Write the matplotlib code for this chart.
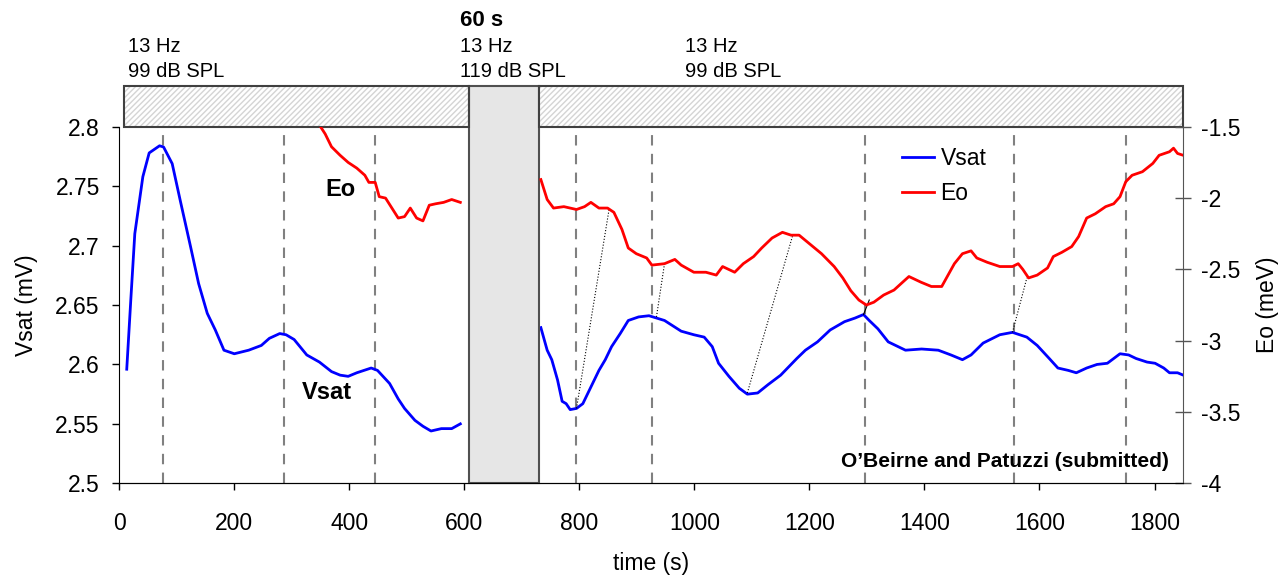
import matplotlib
matplotlib.use("Agg")
import matplotlib.pyplot as plt
from matplotlib.patches import Rectangle
from matplotlib.lines import Line2D

plt.rcParams['font.family'] = ['Liberation Sans', 'DejaVu Sans']

# Vsat (mV), before and after the 60 s loud tone
vsat1_t = [13, 20, 27, 41, 52, 70, 77, 92, 106, 124, 138, 153, 167, 182, 200, 225, 247, 261, 279,
           290, 304, 326, 348, 369, 384, 398, 413, 438, 449, 470, 485, 496, 514, 528, 542, 560, 578, 593]
vsat1_v = [2.596, 2.654, 2.71, 2.758, 2.778, 2.784, 2.783, 2.769, 2.738, 2.699, 2.668, 2.643, 2.629,
           2.612, 2.609, 2.612, 2.616, 2.622, 2.626, 2.625, 2.621, 2.608, 2.602, 2.594, 2.591, 2.590,
           2.593, 2.597, 2.595, 2.584, 2.571, 2.563, 2.553, 2.548, 2.544, 2.546, 2.546, 2.550]
vsat2_t = [733, 744, 752, 762, 770, 777, 784, 795, 806, 820, 834, 845, 856, 871, 885, 903, 921, 948,
           977, 999, 1017, 1031, 1042, 1060, 1078, 1092, 1110, 1128, 1150, 1164, 1178, 1193, 1214,
           1236, 1261, 1279, 1294, 1304, 1319, 1337, 1367, 1395, 1424, 1446, 1466, 1481, 1502, 1531,
           1553, 1578, 1596, 1617, 1632, 1650, 1664, 1682, 1700, 1718, 1729, 1740, 1755, 1768, 1787,
           1801, 1816, 1826, 1840, 1850]
vsat2_v = [2.631, 2.612, 2.604, 2.587, 2.569, 2.567, 2.562, 2.563, 2.567, 2.581, 2.595, 2.604, 2.615,
           2.626, 2.637, 2.640, 2.641, 2.637, 2.628, 2.625, 2.623, 2.615, 2.601, 2.590, 2.580, 2.575,
           2.576, 2.583, 2.591, 2.598, 2.605, 2.612, 2.619, 2.629, 2.636, 2.639, 2.642, 2.637, 2.630,
           2.619, 2.612, 2.613, 2.612, 2.608, 2.604, 2.608, 2.618, 2.625, 2.627, 2.623, 2.616, 2.605,
           2.597, 2.595, 2.593, 2.597, 2.600, 2.601, 2.605, 2.609, 2.608, 2.605, 2.602, 2.601, 2.597,
           2.593, 2.593, 2.591]

# Eo (meV)
eo1_t = [350, 358, 369, 384, 398, 413, 427, 434, 445, 452, 463, 474, 485, 496, 506, 517, 528, 539,
         550, 564, 578, 593]
eo1_v = [-1.50, -1.55, -1.64, -1.70, -1.75, -1.79, -1.84, -1.89, -1.89, -1.99, -2.00, -2.07, -2.14,
         -2.13, -2.07, -2.14, -2.16, -2.05, -2.04, -2.03, -2.01, -2.03]
eo2_t = [733, 744, 755, 773, 795, 809, 820, 834, 849, 860, 874, 885, 899, 917, 926, 948, 966, 977,
         999, 1020, 1038, 1049, 1070, 1085, 1103, 1117, 1135, 1153, 1168, 1182, 1200, 1221, 1243,
         1258, 1272, 1286, 1299, 1312, 1329, 1347, 1362, 1373, 1394, 1412, 1430, 1441, 1452, 1466,
         1481, 1491, 1509, 1531, 1553, 1563, 1571, 1581, 1596, 1614, 1624, 1639, 1656, 1668, 1682,
         1697, 1715, 1729, 1740, 1750, 1761, 1779, 1797, 1808, 1826, 1833, 1840, 1850]
eo2_v = [-1.87, -2.01, -2.07, -2.06, -2.08, -2.06, -2.03, -2.07, -2.07, -2.10, -2.22, -2.35, -2.39,
         -2.42, -2.47, -2.46, -2.43, -2.47, -2.52, -2.52, -2.54, -2.48, -2.52, -2.46, -2.41, -2.35,
         -2.28, -2.24, -2.26, -2.26, -2.32, -2.39, -2.48, -2.56, -2.65, -2.715, -2.75, -2.73, -2.68,
         -2.645, -2.59, -2.55, -2.59, -2.62, -2.62, -2.54, -2.46, -2.39, -2.37, -2.42, -2.45, -2.48,
         -2.48, -2.46, -2.50, -2.56, -2.54, -2.49, -2.41, -2.38, -2.34, -2.27, -2.14, -2.11, -2.06,
         -2.04, -1.99, -1.885, -1.84, -1.815, -1.757, -1.70, -1.675, -1.65, -1.687, -1.70]

# vertical dashed markers (s)
markers = [76, 287, 445, 794, 926, 1297, 1556, 1751]

# connector lines: (t, Vsat) -> (t, Eo)
conn_vt = [795, 934, 1092, 1294, 1553]
conn_vv = [2.563, 2.640, 2.576, 2.642, 2.627]
conn_et = [852, 948, 1171, 1304, 1578]
conn_ev = [-2.07, -2.46, -2.26, -2.715, -2.56]
conn_style = [':', ':', ':', '-', ':']

# stimulus periods
stim_start = [9, 608, 729]
stim_end = [608, 729, 1850]
stim_lab1 = ['13 Hz', '13 Hz', '13 Hz']
stim_lab2 = ['99 dB SPL', '119 dB SPL', '99 dB SPL']
stim_lab_x = [16, 593, 983]

VMIN, VMAX = 2.5, 2.8
EMIN, EMAX = -4, -1.5


def eo_to_v(e):
    return VMIN + (e - EMIN) / (EMAX - EMIN) * (VMAX - VMIN)


fig = plt.figure(figsize=(12.88, 5.75), dpi=100)
ax = fig.add_axes([0.0926, 0.1595, 0.8261, 0.620])
ax2 = ax.twinx()

ax.plot(vsat1_t, vsat1_v, color='#0000ff', lw=2)
ax.plot(vsat2_t, vsat2_v, color='#0000ff', lw=2)
ax2.plot(eo1_t, eo1_v, color='#ff0000', lw=2)
ax2.plot(eo2_t, eo2_v, color='#ff0000', lw=2)

for m in markers:
    ax.axvline(m, color='#808080', ls=(0, (5, 4)), lw=1.5, zorder=0)

for i in range(len(conn_vt)):
    ax.plot([conn_vt[i], conn_et[i]], [conn_vv[i], eo_to_v(conn_ev[i])],
            color='black', ls=conn_style[i], lw=0.8)

ax.set_xlim(0, 1850)
ax.set_ylim(VMIN, VMAX)
ax2.set_ylim(EMIN, EMAX)
ax.set_xticks(range(0, 1801, 200))
ax.set_yticks([2.5, 2.55, 2.6, 2.65, 2.7, 2.75, 2.8])
ax.set_yticklabels(['2.5', '2.55', '2.6', '2.65', '2.7', '2.75', '2.8'])
ax2.set_yticks([-4, -3.5, -3, -2.5, -2, -1.5])
ax2.set_yticklabels(['-4', '-3.5', '-3', '-2.5', '-2', '-1.5'])

for a in (ax, ax2):
    a.spines['top'].set_visible(False)
ax2.spines['left'].set_visible(False)
ax.spines['right'].set_visible(False)
ax2.spines['right'].set_color('#555555')
ax.tick_params(axis='x', labelsize=16.5, length=5, width=1, pad=15.5)
ax.tick_params(axis='y', labelsize=16.5, length=5, width=1, pad=9)
ax2.tick_params(labelsize=16.5, length=11.5, width=1, direction='inout', color='#555555', pad=7)

ax.set_xlabel('time (s)', fontsize=16.5)
ax.set_ylabel('Vsat (mV)', fontsize=16.5)
ax2.set_ylabel('Eo (meV)', fontsize=16.5)
ax.xaxis.set_label_coords(0.5, -0.193)
ax.yaxis.set_label_coords(-0.076, 0.5)
ax2.yaxis.set_label_coords(1.068, 0.5)

# stimulus band above the axes
band_top = 2.834
for i in range(len(stim_start)):
    if stim_lab2[i].startswith('119'):
        ax.add_patch(Rectangle((stim_start[i], VMIN), stim_end[i] - stim_start[i], band_top - VMIN,
                               facecolor='#e6e6e6', edgecolor='#505050', lw=1.5, clip_on=False, zorder=3))
    else:
        ax.add_patch(Rectangle((stim_start[i], VMAX), stim_end[i] - stim_start[i], band_top - VMAX,
                               facecolor='white', edgecolor='#d4d4d4', hatch='//////', lw=0,
                               clip_on=False, zorder=3))
        ax.add_patch(Rectangle((stim_start[i], VMAX), stim_end[i] - stim_start[i], band_top - VMAX,
                               facecolor='none', edgecolor='#404040', lw=1.5, clip_on=False, zorder=4))
    ax.text(stim_lab_x[i], 2.8626, stim_lab1[i], fontsize=14.5, va='baseline', clip_on=False)
    ax.text(stim_lab_x[i], 2.842, stim_lab2[i], fontsize=14.5, va='baseline', clip_on=False)

ax.text(593, 2.8847, '60 s', fontsize=16, fontweight='bold', va='baseline', clip_on=False)

ax.text(359, 2.747, 'Eo', fontsize=17, fontweight='bold', va='center')
ax.text(317, 2.576, 'Vsat', fontsize=17, fontweight='bold', va='center')
ax.text(1825, 2.518, 'O\u2019Beirne and Patuzzi (submitted)', fontsize=15, fontweight='bold',
        ha='right', va='center')

handles = [Line2D([], [], color='#0000ff', lw=2), Line2D([], [], color='#ff0000', lw=2)]
ax2.legend(handles, ['Vsat', 'Eo'], loc='upper left', bbox_to_anchor=(0.736, 0.942), frameon=False,
           fontsize=16.5, handlelength=1.4, handletextpad=0.26, labelspacing=0.52,
           borderpad=0, borderaxespad=0)

fig.savefig('out.png', dpi=100)
